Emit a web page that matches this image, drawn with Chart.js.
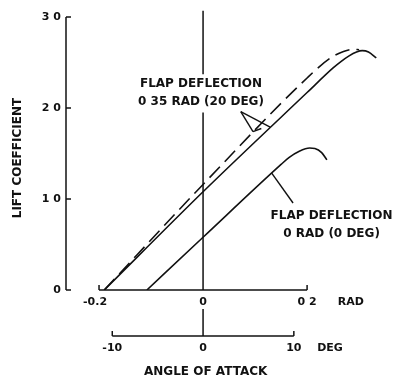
<!DOCTYPE html>
<html>
<head>
<meta charset="utf-8">
<script src="https://cdn.jsdelivr.net/npm/chart.js@4/dist/chart.umd.min.js"></script>
<style>
html,body{margin:0;padding:0;background:#fff;}
#wrap{width:395px;height:381px;position:relative;}
</style>
</head>
<body>
<div id="wrap"><canvas id="c" width="395" height="381"></canvas></div>
<script>
// ---- data (angle of attack in rad, lift coefficient) ----
const flap20Rad = [-0.19, 0.0, 0.2, 0.25, 0.265, 0.28, 0.295, 0.306, 0.318, 0.333];
const flap20Cl  = [0, 1.08, 2.17, 2.44, 2.51, 2.57, 2.615, 2.63, 2.615, 2.55];
const flap20DashRad = [-0.19, 0.0, 0.2, 0.245, 0.27, 0.29, 0.30];
const flap20DashCl  = [0, 1.16, 2.33, 2.55, 2.62, 2.645, 2.64];
const flap0Rad = [-0.108, 0.0, 0.15, 0.165, 0.185, 0.205, 0.215, 0.228, 0.238];
const flap0Cl  = [0, 0.58, 1.38, 1.455, 1.525, 1.56, 1.555, 1.51, 1.43];

// ---- axis ticks ----
const yTickValues = [0, 1, 2, 3];
const yTickLabels = ['0', '1 0', '2 0', '3 0'];
const radTickValues = [-0.2, 0, 0.2];
const radTickLabels = ['-0.2', '0', '0 2'];
const degTickValues = [-10, 0, 10];
const degTickLabels = ['-10', '0', '10'];

// ---- annotations (data units) ----
const label20Lines = ['FLAP DEFLECTION', '0 35 RAD (20 DEG)'];
const label20Pos = {x: -0.004, y: 2.26};
const leader20 = [
  [{x:0.0725,y:1.96},{x:0.129,y:1.79}],
  [{x:0.0725,y:1.96},{x:0.096,y:1.74}],
  [{x:0.096,y:1.74},{x:0.112,y:1.775}]
];
const label0Lines = ['FLAP DEFLECTION', '0 RAD (0 DEG)'];
const label0Pos = {x: 0.247, y: 0.82};
const leader0 = [[{x:0.132,y:1.285},{x:0.173,y:0.956}]];

const toPts = (xs, ys) => xs.map((x, i) => ({x: x, y: ys[i]}));

const FONT_S = 'bold 11px "DejaVu Sans"';
const FONT_L = 'bold 12px "DejaVu Sans"';
const INK = '#111';

const axesPlugin = {
  id: 'axesPlugin',
  afterDraw(chart) {
    const ctx = chart.ctx;
    const xs = chart.scales.x, ys = chart.scales.y;
    const px = v => xs.getPixelForValue(v);
    const py = v => ys.getPixelForValue(v);
    const deg2rad = d => d * Math.PI / 180;
    ctx.save();
    ctx.strokeStyle = INK;
    ctx.fillStyle = INK;
    ctx.lineWidth = 1.5;
    ctx.lineCap = 'butt';
    const line = (x1, y1, x2, y2) => { ctx.beginPath(); ctx.moveTo(x1, y1); ctx.lineTo(x2, y2); ctx.stroke(); };

    // Y axis
    const yAxisX = chart.chartArea.left;
    line(yAxisX, py(3), yAxisX, py(0));
    yTickValues.forEach(v => line(yAxisX, py(v), yAxisX + 5, py(v)));
    ctx.font = FONT_S;
    ctx.textAlign = 'right';
    ctx.textBaseline = 'middle';
    yTickValues.forEach((v, i) => ctx.fillText(yTickLabels[i], yAxisX - 5, py(v)));

    // RAD axis
    const y0 = py(0);
    line(px(radTickValues[0]), y0, px(radTickValues[radTickValues.length - 1]), y0);
    line(px(radTickValues[0]), y0, px(radTickValues[0]), y0 - 5);
    line(px(radTickValues[2]), y0, px(radTickValues[2]), y0 - 5);
    ctx.textAlign = 'center';
    ctx.textBaseline = 'middle';
    radTickValues.forEach((v, i) => ctx.fillText(radTickLabels[i], px(v) + (i === 0 ? -4 : 0), y0 + 12));
    ctx.fillText('RAD', px(0.284), y0 + 12);

    // DEG axis
    const yDeg = y0 + 46;
    line(px(deg2rad(degTickValues[0])), yDeg, px(deg2rad(degTickValues[2])), yDeg);
    line(px(deg2rad(degTickValues[0])), yDeg, px(deg2rad(degTickValues[0])), yDeg - 5);
    line(px(deg2rad(degTickValues[2])), yDeg, px(deg2rad(degTickValues[2])), yDeg - 5);
    degTickValues.forEach((v, i) => ctx.fillText(degTickLabels[i], px(deg2rad(v)), yDeg + 12));
    ctx.fillText('DEG', px(0.244), yDeg + 12);
    ctx.font = FONT_L;
    ctx.fillText('ANGLE OF ATTACK', px(0.005), yDeg + 36);

    // vertical zero line (broken around the label text and the "0" tick label)
    line(px(0), py(3.07), px(0), py(2.37));
    line(px(0), py(1.95), px(0), y0);
    line(px(0), y0 + 19, px(0), yDeg);

    // Y title
    ctx.save();
    ctx.translate(18, py(1.45));
    ctx.rotate(-Math.PI / 2);
    ctx.fillText('LIFT COEFFICIENT', 0, 0);
    ctx.restore();

    // annotations
    ctx.lineWidth = 1.4;
    label20Lines.forEach((t, i) => ctx.fillText(t, px(label20Pos.x), py(label20Pos.y) + i * 18));
    label0Lines.forEach((t, i) => ctx.fillText(t, px(label0Pos.x), py(label0Pos.y) + i * 18));
    leader20.concat(leader0).forEach(s => line(px(s[0].x), py(s[0].y), px(s[1].x), py(s[1].y)));
    ctx.restore();
  }
};

new Chart(document.getElementById('c'), {
  type: 'scatter',
  data: {
    datasets: [
      {data: toPts(flap20Rad, flap20Cl), showLine: true, borderColor: INK, borderWidth: 1.6, pointRadius: 0, cubicInterpolationMode: 'monotone'},
      {data: toPts(flap20DashRad, flap20DashCl), showLine: true, borderColor: INK, borderWidth: 1.6, borderDash: [15, 7], pointRadius: 0, cubicInterpolationMode: 'monotone'},
      {data: toPts(flap0Rad, flap0Cl), showLine: true, borderColor: INK, borderWidth: 1.6, pointRadius: 0, cubicInterpolationMode: 'monotone'}
    ]
  },
  options: {
    responsive: false,
    animation: false,
    devicePixelRatio: 1,
    layout: {padding: {left: 66, right: 0, top: 17, bottom: 91}},
    plugins: {legend: {display: false}, tooltip: {enabled: false}},
    scales: {
      x: {type: 'linear', min: -0.2635, max: 0.369, display: false},
      y: {type: 'linear', min: 0, max: 3, display: false}
    }
  },
  plugins: [axesPlugin]
});
</script>
</body>
</html>
